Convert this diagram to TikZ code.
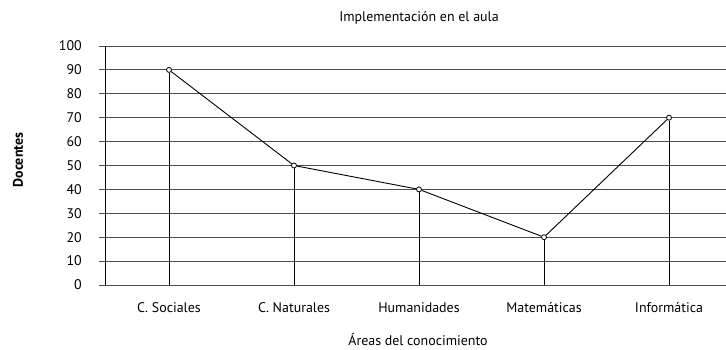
\documentclass[tikz,border=0pt]{standalone}
\usepackage{fontspec}
\setmainfont{PT Sans}
\begin{document}
\begin{tikzpicture}[x=1bp,y=1bp,
    font=\fontsize{14}{16}\selectfont,
    dot/.style={circle,draw,fill=white,inner sep=0pt,minimum size=5bp,line width=0.8bp},
    gridline/.style={draw=black!70,line width=1bp},
    drop/.style={draw=black,line width=0.8bp}]
  \useasboundingbox (0,0) rectangle (726,349);

  % value lines and ticks
  \foreach \v in {0,10,...,100} {
    \draw[gridline] (99,64+2.39*\v) -- (726,64+2.39*\v);
    \node[anchor=east,inner sep=0pt] (t\v) at (82,64+2.39*\v) {\v};
  }
  \coordinate (base) at (105,64);
  \coordinate (top) at (105,303);
  \draw[drop] (base) -- (top);

  % points
  \node[dot] (cs) at (169,64+2.39*90) {};
  \node[dot] (cn) at (294,64+2.39*50) {};
  \node[dot] (hu) at (419,64+2.39*40) {};
  \node[dot] (ma) at (544,64+2.39*20) {};
  \node[dot] (in) at (669,64+2.39*70) {};

  \foreach \p in {cs,cn,hu,ma,in}
    \draw[drop] (\p.south) -- (\p |- base);
  \draw[line width=0.9bp] (cs) -- (cn) -- (hu) -- (ma) -- (in);

  % category labels
  \node (lcs) at (169,41) {C. Sociales};
  \node (lcn) at (294,41) {C. Naturales};
  \node (lhu) at (419,41) {Humanidades};
  \node (lma) at (544,41) {Matemáticas};
  \node (lin) at (669,41) {Informática};

  % titles
  \node (title) at (419,331) {Implementación en el aula};
  \node (xlab) at (418,9) {Áreas del conocimiento};
  \node[rotate=90,font=\fontsize{14}{16}\selectfont\bfseries] (ylab) at (18,189) {Docentes};
\end{tikzpicture}
\end{document}
